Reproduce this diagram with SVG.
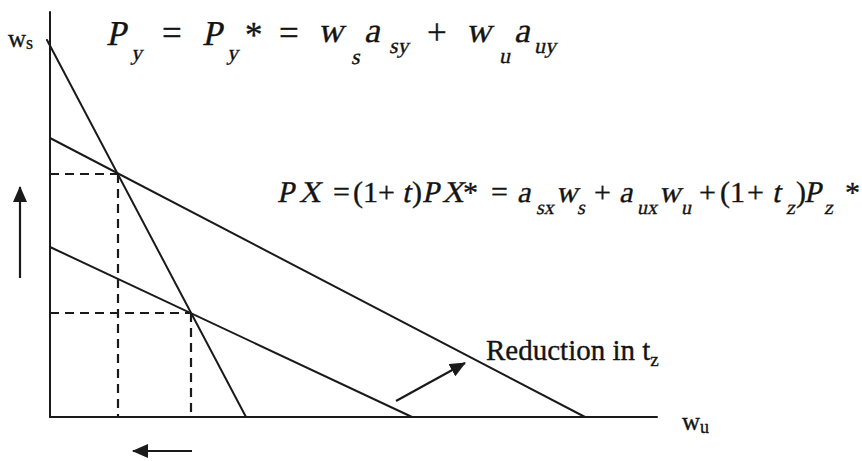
<svg xmlns="http://www.w3.org/2000/svg" width="862" height="461" viewBox="0 0 862 461">
<defs>
<style>
.ln{stroke:#1a1a1a;stroke-width:2;fill:none;stroke-linecap:round}
.ds{stroke:#1a1a1a;stroke-width:2.2;fill:none;stroke-dasharray:9 6}
.ar{stroke:#1a1a1a;stroke-width:2.2;fill:none;marker-end:url(#ah)}
text{font-family:"Liberation Serif","Times New Roman",serif;fill:#141414;stroke:#141414;stroke-width:0.35}
.e1{font-size:35px}
.s1{font-size:22px}
.e2{font-size:30px}
.s2{font-size:20px}
</style>
<marker id="ah" viewBox="0 0 16 14" refX="15" refY="7" markerWidth="16" markerHeight="14" markerUnits="userSpaceOnUse" orient="auto">
<path d="M0,0 L16,7 L0,14 z" fill="#1a1a1a"/>
</marker>
</defs>
<rect width="862" height="461" fill="#ffffff"/>

<g id="axes">
<line class="ln" x1="50" y1="12" x2="50" y2="417"/>
<line class="ln" x1="50" y1="417" x2="657" y2="417"/>
</g>

<g id="connectors">
<line class="ln" x1="47" y1="40" x2="246" y2="417"/>
<line class="ln" x1="50" y1="138" x2="585" y2="417"/>
<line class="ln" x1="50" y1="247" x2="412" y2="417"/>
<line class="ds" x1="50" y1="174" x2="118" y2="174"/>
<line class="ds" x1="118" y1="174" x2="118" y2="417"/>
<line class="ds" x1="50" y1="313" x2="191" y2="313"/>
<line class="ds" x1="191" y1="313" x2="191" y2="417"/>
<line class="ar" x1="20" y1="278" x2="20" y2="187"/>
<line class="ar" x1="192" y1="451" x2="133" y2="451"/>
<line class="ar" x1="396" y1="401" x2="465" y2="363"/>
</g>

<g id="label-ws">
<text x="8" y="47" font-size="25">w<tspan font-size="18" dy="2">s</tspan></text>
</g>

<g id="label-wu">
<text x="682" y="430" font-size="25">w<tspan font-size="18" dy="3">u</tspan></text>
</g>

<g id="label-reduction">
<text x="486" y="360" font-size="29">Reduction in t<tspan font-size="19" dy="6">z</tspan></text>
</g>

<g id="eq1">
<text class="e1" x="162" y="45">=</text>
<text class="e1" x="245" y="47">*</text>
<text class="e1" x="279" y="45">=</text>
<text class="e1" x="427" y="44">+</text>
<g transform="matrix(1,0,-0.2126,1,0,0)">
<text class="e1" x="115.6" y="45">P</text>
<text class="s1" x="143.8" y="60">y</text>
<text class="e1" x="211.6" y="45">P</text>
<text class="s1" x="239.8" y="60">y</text>
<text class="e1" x="326.9" y="42">w</text>
<text class="s1" x="364.6" y="64">s</text>
<text class="e1" x="372.9" y="42">a</text>
<text class="s1" x="400.3" y="53">sy</text>
<text class="e1" x="474.9" y="42">w</text>
<text class="s1" x="512.4" y="63">u</text>
<text class="e1" x="522.9" y="42">a</text>
<text class="s1" x="545.3" y="53">uy</text>
</g>
</g>

<g id="eq2">
<text class="e2" x="333" y="202">=</text>
<text class="e2" x="353" y="202">(1</text>
<text class="e2" x="378" y="202">+</text>
<text class="e2" x="412" y="202">)</text>
<text class="e2" x="463" y="202">*</text>
<text class="e2" x="491" y="202">=</text>
<text class="e2" x="594" y="202">+</text>
<text class="e2" x="699" y="202">+</text>
<text class="e2" x="720" y="202">(1</text>
<text class="e2" x="747" y="202">+</text>
<text class="e2" x="796" y="202">)</text>
<text class="e2" x="845" y="202">*</text>
<g transform="matrix(1,0,-0.2126,1,0,0)">
<text class="e2" x="319.9" y="202">P</text>
<text class="e2" x="341.9" y="202">X</text>
<text class="e2" x="444.9" y="202">t</text>
<text class="e2" x="464.9" y="202">P</text>
<text class="e2" x="484.9" y="202">X</text>
<text class="e2" x="559.9" y="202">a</text>
<text class="s2" x="581.5" y="214">sx</text>
<text class="e2" x="598.9" y="202">w</text>
<text class="s2" x="622.5" y="214">s</text>
<text class="e2" x="661.9" y="202">a</text>
<text class="s2" x="682.5" y="214">ux</text>
<text class="e2" x="701.9" y="202">w</text>
<text class="s2" x="726.5" y="214">u</text>
<text class="e2" x="814.9" y="202">t</text>
<text class="s2" x="831.5" y="214">z</text>
<text class="e2" x="846.9" y="202">P</text>
<text class="s2" x="869.5" y="214">z</text>
</g>
</g>
</svg>
